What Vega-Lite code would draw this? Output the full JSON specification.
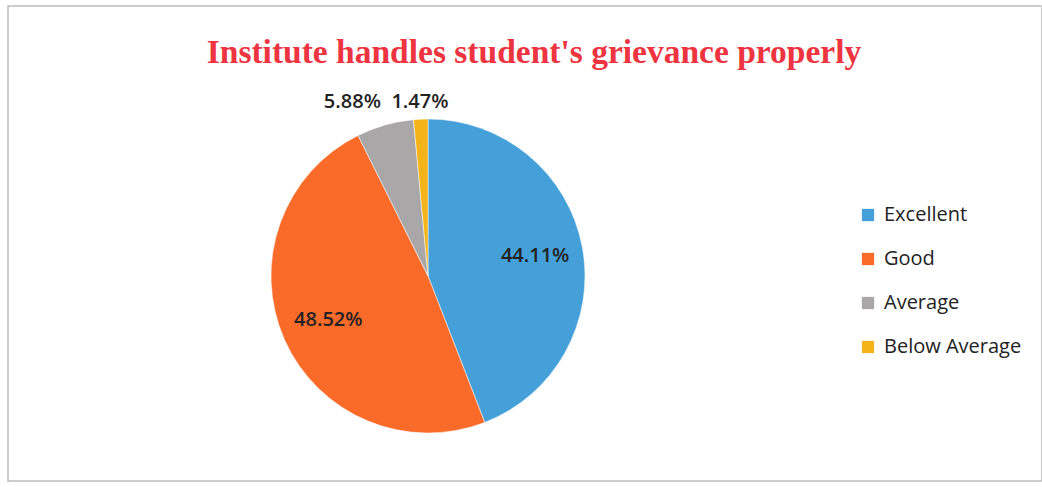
{
  "$schema": "https://vega.github.io/schema/vega-lite/v6.json",
  "width": 1042,
  "height": 487,
  "autosize": {"type": "fit", "contains": "padding"},
  "padding": {"left": 8, "top": 6, "right": 0, "bottom": 6},
  "background": "white",
  "view": {"stroke": "#bdbdbd", "strokeWidth": 1.5},
  "title": {
    "text": "Institute handles student's grievance properly",
    "font": "Liberation Serif",
    "fontSize": 33.5,
    "fontWeight": "bold",
    "color": "#ee3440",
    "anchor": "middle",
    "frame": "group",
    "baseline": "alphabetic",
    "offset": -57,
    "dy": 33,
    "dx": 9
  },
  "config": {
    "view": {"stroke": "#bdbdbd", "strokeWidth": 1.5},
    "legend": {
      "orient": "none",
      "legendX": 850,
      "legendY": 199,
      "symbolType": "square",
      "symbolSize": 150,
      "symbolStrokeWidth": 0,
      "labelFont": "Open Sans",
      "labelFontSize": 20,
      "labelColor": "#222222",
      "labelOffset": 6,
      "rowPadding": 24
    }
  },
  "data": {
    "values": [
      {"rating": "Excellent", "idx": 1, "pct": 44.11, "label": "44.11%"},
      {"rating": "Good", "idx": 2, "pct": 48.52, "label": "48.52%"},
      {"rating": "Average", "idx": 3, "pct": 5.88, "label": "5.88%"},
      {"rating": "Below Average", "idx": 4, "pct": 1.47, "label": "1.47%"}
    ]
  },
  "encoding": {
    "theta": {"field": "pct", "type": "quantitative", "stack": true},
    "order": {"field": "idx", "type": "quantitative"}
  },
  "layer": [
    {
      "mark": {"type": "arc", "x": 420, "y": 270, "outerRadius": 157, "stroke": "white", "strokeWidth": 0.5},
      "encoding": {
        "color": {
          "field": "rating",
          "type": "nominal",
          "title": null,
          "scale": {
            "domain": ["Excellent", "Good", "Average", "Below Average"],
            "range": ["#45a0da", "#fa6b2a", "#a9a7a8", "#f5b31a"]
          }
        }
      }
    },
    {
      "mark": {"type": "text", "x": 420, "y": 270, "radius": 109, "font": "Open Sans", "fontSize": 20, "fontWeight": 600, "color": "#222222", "align": "center", "baseline": "middle"},
      "encoding": {
        "text": {"condition": {"test": "datum.pct > 20", "field": "label"}, "value": ""}
      }
    },
    {
      "mark": {"type": "text", "x": 420, "y": 270, "radius": 174, "dx": -28, "dy": -7, "font": "Open Sans", "fontSize": 20, "fontWeight": 600, "color": "#222222", "align": "center", "baseline": "middle"},
      "encoding": {
        "text": {"condition": {"test": "datum.rating == 'Average'", "field": "label"}, "value": ""}
      }
    },
    {
      "mark": {"type": "text", "x": 420, "y": 270, "radius": 174, "font": "Open Sans", "fontSize": 20, "fontWeight": 600, "color": "#222222", "align": "center", "baseline": "middle"},
      "encoding": {
        "text": {"condition": {"test": "datum.rating == 'Below Average'", "field": "label"}, "value": ""}
      }
    }
  ]
}
